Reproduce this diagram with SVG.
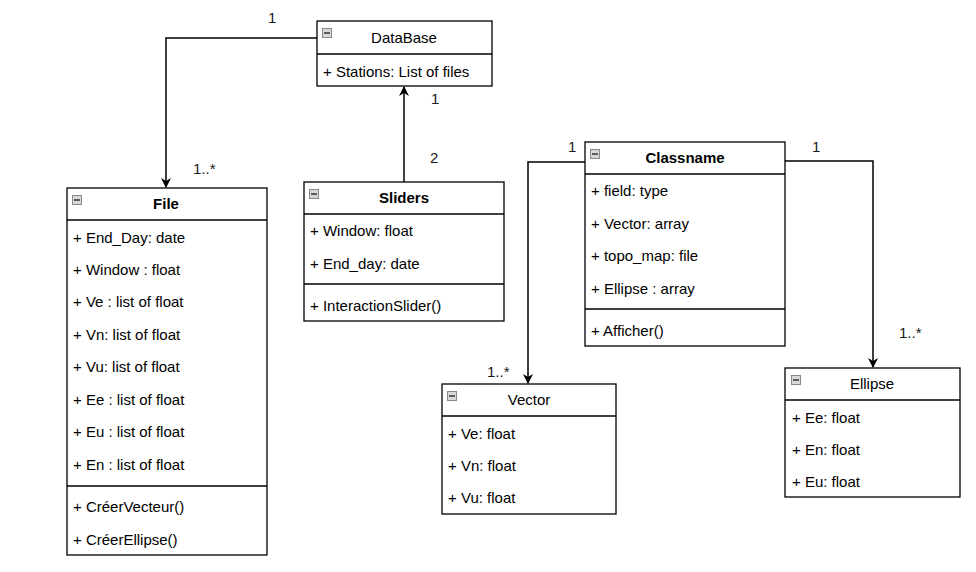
<svg xmlns="http://www.w3.org/2000/svg" width="976" height="572" viewBox="0 0 976 572">
<defs>
<style>
.box{fill:#fff;stroke:#000;stroke-width:1.3}
.ln{stroke:#000;stroke-width:1.3}
.t{font-family:"Liberation Sans",Arial,sans-serif;font-size:15px;fill:#000}
.b{font-weight:bold;text-anchor:middle}
.c{text-anchor:middle}
.lbl{font-family:"Liberation Sans",Arial,sans-serif;font-size:15px;fill:#1a1a1a}
.conn{fill:none;stroke:#000;stroke-width:1.5}
.ic{fill:#d8d8d8;stroke:#888;stroke-width:1}
</style>
<symbol id="minus" viewBox="0 0 10 10" overflow="visible">
<rect x="0.5" y="0.5" width="9" height="9" class="ic"/>
<line x1="2" y1="5" x2="8" y2="5" stroke="#333" stroke-width="1.5"/>
</symbol>
<marker id="arr" viewBox="0 0 10 10" refX="9" refY="5" markerWidth="10" markerHeight="10" markerUnits="userSpaceOnUse" orient="auto">
<path d="M0,0 L10,5 L0,10 L3,5 z" fill="#000"/>
</marker>
</defs>

<g id="connectors">
<path class="conn" d="M317,38 H166 V187" marker-end="url(#arr)"/>
<path class="conn" d="M404,182 V87" marker-end="url(#arr)"/>
<path class="conn" d="M585,162 H528 V383" marker-end="url(#arr)"/>
<path class="conn" d="M785,161 H873 V367" marker-end="url(#arr)"/>
<text class="lbl" x="268" y="23">1</text>
<text class="lbl" x="193" y="174">1..*</text>
<text class="lbl" x="431" y="104">1</text>
<text class="lbl" x="430" y="163">2</text>
<text class="lbl" x="568" y="152">1</text>
<text class="lbl" x="487" y="377">1..*</text>
<text class="lbl" x="812" y="152">1</text>
<text class="lbl" x="899" y="338">1..*</text>
</g>

<g id="DataBase">
<rect class="box" x="317" y="21" width="175" height="65"/>
<line class="ln" x1="317" y1="54" x2="492" y2="54"/>
<use href="#minus" x="322" y="28" width="10" height="10"/>
<text class="t c" x="404" y="43">DataBase</text>
<text class="t" x="323" y="77">+ Stations: List of files</text>
</g>

<g id="File">
<rect class="box" x="67" y="188" width="200" height="367"/>
<line class="ln" x1="67" y1="220" x2="267" y2="220"/>
<line class="ln" x1="67" y1="486" x2="267" y2="486"/>
<use href="#minus" x="72" y="195" width="10" height="10"/>
<text class="t b" x="166" y="209">File</text>
<text class="t" x="73" y="243">+ End_Day: date</text>
<text class="t" x="73" y="275">+ Window : float</text>
<text class="t" x="73" y="307">+ Ve : list of float</text>
<text class="t" x="73" y="340">+ Vn: list of float</text>
<text class="t" x="73" y="372">+ Vu: list of float</text>
<text class="t" x="73" y="405">+ Ee : list of float</text>
<text class="t" x="73" y="437">+ Eu : list of float</text>
<text class="t" x="73" y="470">+ En : list of float</text>
<text class="t" x="73" y="512">+ CréerVecteur()</text>
<text class="t" x="73" y="545">+ CréerEllipse()</text>
</g>

<g id="Sliders">
<rect class="box" x="304" y="182" width="200" height="139"/>
<line class="ln" x1="304" y1="214" x2="504" y2="214"/>
<line class="ln" x1="304" y1="284" x2="504" y2="284"/>
<use href="#minus" x="309" y="189" width="10" height="10"/>
<text class="t b" x="404" y="203">Sliders</text>
<text class="t" x="310" y="236">+ Window: float</text>
<text class="t" x="310" y="269">+ End_day: date</text>
<text class="t" x="310" y="311">+ InteractionSlider()</text>
</g>

<g id="Classname">
<rect class="box" x="585" y="142" width="200" height="204"/>
<line class="ln" x1="585" y1="174" x2="785" y2="174"/>
<line class="ln" x1="585" y1="309" x2="785" y2="309"/>
<use href="#minus" x="590" y="149" width="10" height="10"/>
<text class="t b" x="685" y="163">Classname</text>
<text class="t" x="591" y="196">+ field: type</text>
<text class="t" x="591" y="229">+ Vector: array</text>
<text class="t" x="591" y="261">+ topo_map: file</text>
<text class="t" x="591" y="294">+ Ellipse : array</text>
<text class="t" x="591" y="336">+ Afficher()</text>
</g>

<g id="Vector">
<rect class="box" x="442" y="384" width="174" height="130"/>
<line class="ln" x1="442" y1="416" x2="616" y2="416"/>
<use href="#minus" x="447" y="391" width="10" height="10"/>
<text class="t c" x="529" y="405">Vector</text>
<text class="t" x="448" y="439">+ Ve: float</text>
<text class="t" x="448" y="471">+ Vn: float</text>
<text class="t" x="448" y="503">+ Vu: float</text>
</g>

<g id="Ellipse">
<rect class="box" x="785" y="368" width="175" height="129"/>
<line class="ln" x1="785" y1="400" x2="960" y2="400"/>
<use href="#minus" x="791" y="375" width="10" height="10"/>
<text class="t c" x="872" y="389">Ellipse</text>
<text class="t" x="792" y="423">+ Ee: float</text>
<text class="t" x="792" y="455">+ En: float</text>
<text class="t" x="792" y="487">+ Eu: float</text>
</g>
</svg>
